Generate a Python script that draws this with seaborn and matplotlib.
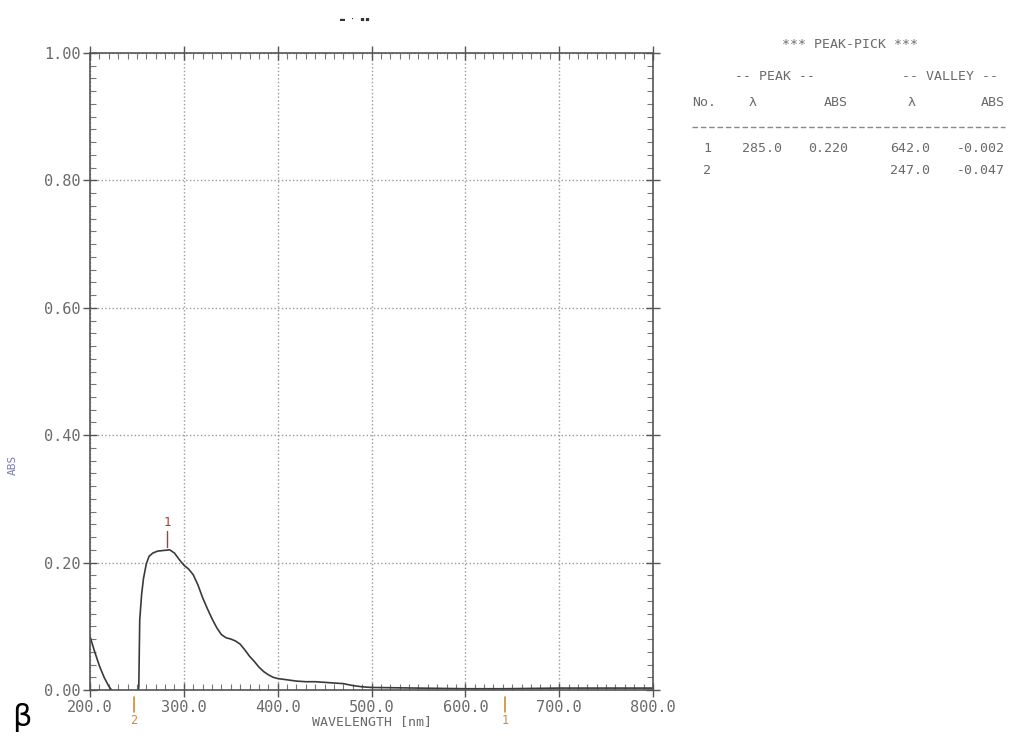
import numpy as np
import matplotlib
matplotlib.use("Agg")
import matplotlib.pyplot as plt
from matplotlib.lines import Line2D
import seaborn as sns

# UV-Vis spectrum
wavelength = [200, 205, 210, 215, 220, 223, 230, 240, 247, 250, 252, 253, 255, 257,
              260, 263, 267, 272, 278, 285, 290, 295, 300, 305, 310, 315, 320, 325,
              330, 335, 340, 345, 350, 355, 360, 365, 370, 375, 380, 385, 390, 395,
              400, 410, 420, 430, 440, 450, 460, 470, 480, 490, 500, 550, 600, 642,
              700, 750, 800]
absorbance = [0.084, 0.060, 0.038, 0.020, 0.006, 0.000, -0.025, -0.043, -0.047, -0.030,
              0.005, 0.110, 0.150, 0.175, 0.198, 0.210, 0.215, 0.218, 0.219, 0.220,
              0.215, 0.205, 0.196, 0.190, 0.181, 0.165, 0.145, 0.128, 0.112, 0.098,
              0.087, 0.082, 0.080, 0.077, 0.072, 0.063, 0.053, 0.045, 0.036, 0.029,
              0.024, 0.020, 0.018, 0.016, 0.014, 0.013, 0.013, 0.012, 0.011, 0.010,
              0.007, 0.005, 0.004, 0.003, 0.002, 0.002, 0.003, 0.003, 0.003]

peak_nm = [285.0]
peak_abs = [0.220]
valley_nm = [642.0, 247.0]
valley_abs = [-0.002, -0.047]

x_ticks = [200, 300, 400, 500, 600, 700, 800]
y_ticks = [0.0, 0.2, 0.4, 0.6, 0.8, 1.0]

W, H = 1010, 743
sns.set_theme(style="white")
plt.rcParams["font.family"] = ["DejaVu Sans Mono", "DejaVu Sans"]

grey = "#6a6a6a"
fig = plt.figure(figsize=(W / 100, H / 100), dpi=100)
ax = fig.add_axes([90 / W, 1 - 690 / H, (653 - 90) / W, (690 - 53) / H])

sns.lineplot(x=wavelength, y=absorbance, ax=ax, color="#3a3a3a", linewidth=1.2)

ax.set_xlim(200, 800)
ax.set_ylim(0, 1.0)
ax.set_xticks(x_ticks)
ax.set_xticklabels([f"{v:.1f}" for v in x_ticks])
ax.set_yticks(y_ticks)
ax.set_yticklabels([f"{v:.2f}" for v in y_ticks])
ax.set_xticks(np.arange(200, 801, 10), minor=True)
ax.set_yticks(np.arange(0, 1.001, 0.02), minor=True)
ax.tick_params(which="major", direction="inout", length=10, width=1.0, color="#555555",
               labelsize=11, labelcolor=grey, top=True, right=True, bottom=True, left=True)
ax.tick_params(which="minor", direction="in", length=4, width=0.8, color="#777777",
               top=True, right=True, bottom=True, left=True)
ax.tick_params(axis="x", pad=2)
ax.tick_params(axis="y", pad=2)
ax.grid(True, which="major", linestyle=":", color="#9a9a9a", linewidth=1.0)
for s in ax.spines.values():
    s.set_color("#555555")
    s.set_linewidth(1.2)

ax.set_xlabel("WAVELENGTH [nm]", fontsize=9.5, color=grey, labelpad=0)
ax.set_ylabel("ABS", fontsize=8, color="#7a7ab0")
ax.yaxis.set_label_coords((18 - 90) / (653 - 90), (690 - 465) / (690 - 53))

# peak marker
red = "#b23a2e"
orange = "#d2883a"
for x, y in zip(peak_nm, peak_abs):
    ax.plot([x - 3, x - 3], [y + 0.005, y + 0.03], color=red, linewidth=1.0)
    ax.text(x - 3, y + 0.033, "1", color=red, fontsize=9, ha="center", va="bottom")

# valley markers below the axis
tr = ax.get_xaxis_transform()
for i, x in enumerate(valley_nm):
    ax.plot([x, x], [-0.011, -0.035], color=orange, linewidth=1.2, transform=tr, clip_on=False)
    ax.text(x, -0.037, str(i + 1), color=orange, fontsize=8.5, ha="center", va="top",
            transform=tr)

# peak-pick table
def ftext(px, py, s, **kw):
    fig.text(px / W, 1 - py / H, s, color=grey, fontsize=9.5, va="center", **kw)

ftext(850, 45, "*** PEAK-PICK ***", ha="center")
ftext(775, 77, "-- PEAK --", ha="center")
ftext(950, 77, "-- VALLEY --", ha="center")
ftext(692, 103, "No.", ha="left")
ftext(753, 103, "λ", ha="center")
ftext(848, 103, "ABS", ha="right")
ftext(912, 103, "λ", ha="center")
ftext(1005, 103, "ABS", ha="right")
fig.add_artist(Line2D([692 / W, 1005 / W], [1 - 127 / H, 1 - 127 / H], color="#888888",
                      linewidth=1.0, linestyle=(0, (4, 2))))
ftext(707, 148, "1", ha="center")
ftext(782, 148, f"{peak_nm[0]:.1f}", ha="right")
ftext(848, 148, f"{peak_abs[0]:.3f}", ha="right")
ftext(707, 170, "2", ha="center")
for k, (nm, a) in enumerate(zip(valley_nm, valley_abs)):
    ftext(930, 148 + 22 * k, f"{nm:.1f}", ha="right")
    ftext(1005, 148 + 22 * k, f"{a:.3f}", ha="right")

fig.text(340 / W, 1 - 20 / H, "▬ · ▪▪", color="#333333", fontsize=6, va="center")
fig.text(12 / W, 1 - 718 / H, "β", color="black", fontsize=22, va="center",
         family="DejaVu Sans")

fig.savefig("out.png", dpi=100)
